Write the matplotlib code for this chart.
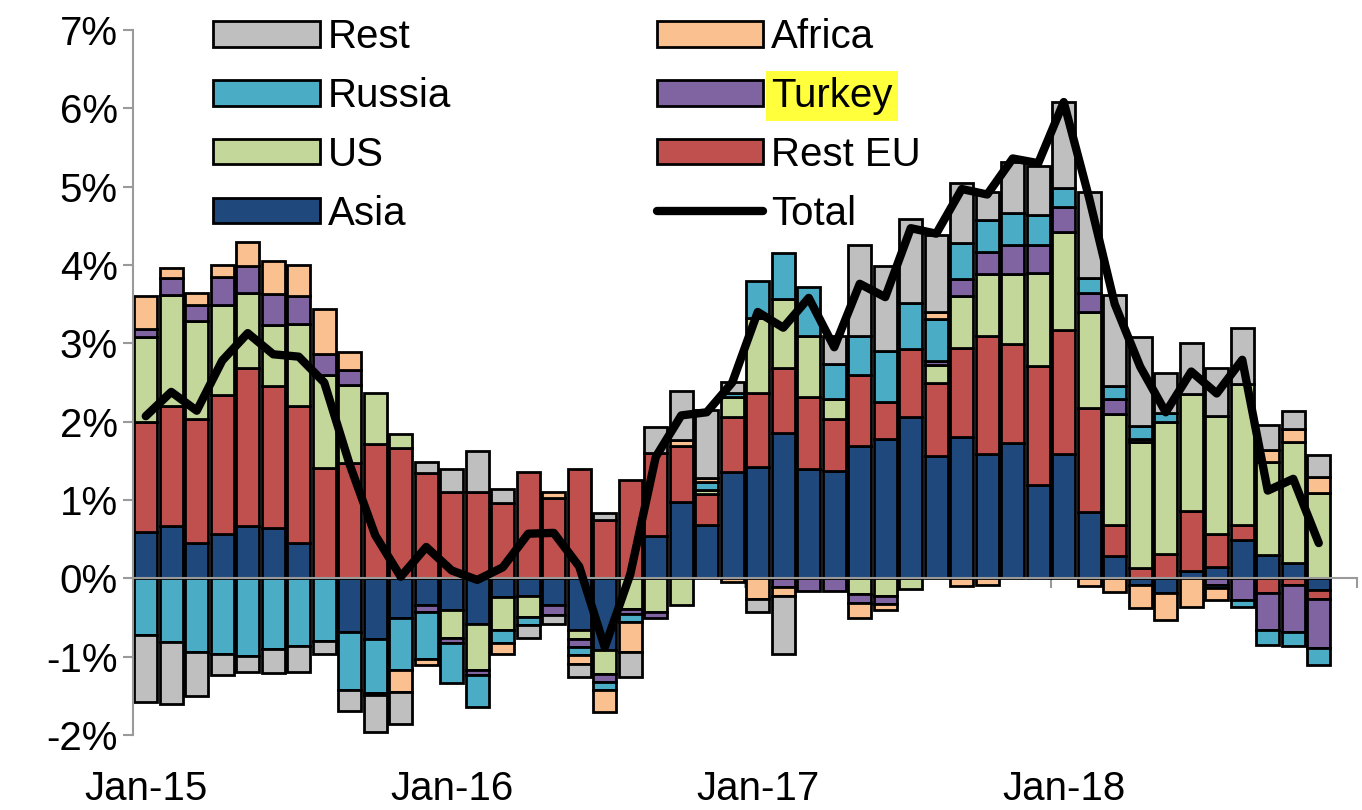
import numpy as np
import matplotlib
matplotlib.use("Agg")
import matplotlib.pyplot as plt
from matplotlib.patches import Patch
from matplotlib.lines import Line2D

plt.rcParams['font.family'] = ['Liberation Sans', 'DejaVu Sans']

months = ["Jan-15", "Feb-15", "Mar-15", "Apr-15", "May-15", "Jun-15", "Jul-15", "Aug-15",
          "Sep-15", "Oct-15", "Nov-15", "Dec-15", "Jan-16", "Feb-16", "Mar-16", "Apr-16",
          "May-16", "Jun-16", "Jul-16", "Aug-16", "Sep-16", "Oct-16", "Nov-16", "Dec-16",
          "Jan-17", "Feb-17", "Mar-17", "Apr-17", "May-17", "Jun-17", "Jul-17", "Aug-17",
          "Sep-17", "Oct-17", "Nov-17", "Dec-17", "Jan-18", "Feb-18", "Mar-18", "Apr-18",
          "May-18", "Jun-18", "Jul-18", "Aug-18", "Sep-18", "Oct-18", "Nov-18"]

asia = [0.59, 0.67, 0.45, 0.57, 0.67, 0.64, 0.45, 0.0, -0.69, -0.77, -0.51, -0.34,
        -0.41, -0.58, -0.24, -0.22, -0.34, -0.66, -0.92, 0.0, 0.54, 0.97, 0.68, 1.36,
        1.42, 1.86, 1.40, 1.37, 1.69, 1.78, 2.06, 1.56, 1.81, 1.59, 1.73, 1.19,
        1.59, 0.85, 0.28, -0.09, -0.19, 0.10, 0.14, 0.49, 0.30, 0.19, -0.15]
rest_eu = [1.40, 1.53, 1.59, 1.77, 2.02, 1.81, 1.75, 1.41, 1.47, 1.72, 1.66, 1.34,
           1.10, 1.10, 0.96, 1.36, 1.02, 1.40, 0.74, 1.25, 1.06, 0.72, 0.40, 0.70,
           0.95, 0.83, 0.92, 0.66, 0.90, 0.47, 0.87, 0.94, 1.13, 1.51, 1.26, 1.52,
           1.58, 1.33, 0.40, 0.13, 0.31, 0.76, 0.43, 0.19, -0.19, -0.09, -0.11]
us = [1.09, 1.42, 1.25, 1.15, 0.95, 0.78, 1.05, 1.18, 1.00, 0.64, 0.18, 0.0,
      -0.35, -0.59, -0.42, -0.27, 0.0, -0.11, -0.30, -0.39, -0.43, -0.34, 0.05, 0.26,
      0.95, 0.88, 0.78, 0.26, -0.20, -0.22, -0.14, 0.22, 0.67, 0.79, 0.89, 1.19,
      1.25, 1.22, 1.42, 1.61, 1.68, 1.49, 1.50, 1.80, 1.19, 1.55, 1.09]
turkey = [0.10, 0.22, 0.20, 0.36, 0.35, 0.40, 0.36, 0.27, 0.19, 0.0, 0.0, -0.09,
          -0.07, -0.07, 0.0, 0.0, -0.13, -0.11, -0.10, -0.06, -0.08, 0.0, 0.0, 0.0,
          0.0, -0.11, -0.16, -0.16, -0.11, -0.11, 0.0, 0.06, 0.21, 0.27, 0.37, 0.35,
          0.32, 0.24, 0.19, 0.04, 0.0, 0.0, -0.08, -0.28, -0.47, -0.59, -0.63]
russia = [-0.72, -0.81, -0.94, -0.97, -0.99, -0.90, -0.86, -0.80, -0.74, -0.70, -0.66, -0.60,
          -0.51, -0.40, -0.17, -0.10, 0.0, -0.10, -0.11, -0.11, 0.0, 0.0, 0.10, 0.05,
          0.48, 0.58, 0.62, 0.45, 0.50, 0.65, 0.58, 0.53, 0.46, 0.42, 0.41, 0.39,
          0.24, 0.19, 0.16, 0.17, 0.12, 0.0, -0.04, -0.08, -0.19, -0.18, -0.22]
africa = [0.42, 0.12, 0.15, 0.15, 0.31, 0.42, 0.39, 0.58, 0.23, -0.02, -0.28, -0.08,
          0.0, 0.0, -0.13, 0.0, 0.08, -0.11, -0.28, -0.38, 0.0, 0.07, 0.05, -0.05,
          -0.26, -0.12, 0.0, 0.0, -0.20, -0.07, 0.0, 0.09, -0.10, -0.09, 0.0, 0.0,
          0.0, -0.10, -0.17, -0.29, -0.34, -0.36, -0.16, 0.0, 0.15, 0.17, 0.21]
rest = [-0.86, -0.79, -0.56, -0.27, -0.21, -0.31, -0.34, -0.16, -0.26, -0.47, -0.41, 0.15,
        0.29, 0.53, 0.18, -0.17, -0.11, -0.17, 0.09, -0.32, 0.33, 0.63, 0.87, 0.14,
        -0.17, -0.74, 0.0, 0.35, 1.16, 1.09, 1.08, 0.98, 0.77, 0.35, 0.66, 0.62,
        1.10, 1.10, 1.17, 1.13, 0.51, 0.65, 0.62, 0.71, 0.32, 0.22, 0.28]
total = [2.07, 2.38, 2.14, 2.78, 3.13, 2.86, 2.83, 2.50, 1.45, 0.55, 0.02, 0.40,
         0.10, -0.02, 0.14, 0.57, 0.58, 0.15, -0.88, 0.05, 1.55, 2.08, 2.12, 2.50,
         3.40, 3.20, 3.58, 2.95, 3.76, 3.59, 4.47, 4.40, 4.97, 4.90, 5.36, 5.30,
         6.08, 4.85, 3.50, 2.70, 2.12, 2.64, 2.36, 2.79, 1.12, 1.27, 0.45]

series_names = ["Asia", "Rest EU", "US", "Turkey", "Russia", "Africa", "Rest"]
series_values = [asia, rest_eu, us, turkey, russia, africa, rest]
series_colors = ["#1F497D", "#C0504D", "#C4D79B", "#8064A2", "#4BACC6", "#FAC090", "#BFBFBF"]

FS = 29

fig = plt.figure(figsize=(13.62, 8.10), dpi=100)
ax = fig.add_axes([133 / 1362, 1 - 735 / 810, (1357 - 133) / 1362, (735 - 30) / 810])

x = np.arange(len(months))
pos_base = np.zeros(len(months))
neg_base = np.zeros(len(months))
for name, vals, col in zip(series_names, series_values, series_colors):
    v = np.array(vals, dtype=float)
    bottom = np.where(v >= 0, pos_base, neg_base)
    edges = ['black' if val != 0 else 'none' for val in v]
    ax.bar(x, v, bottom=bottom, width=0.9, color=col, edgecolor=edges, linewidth=2.0, zorder=2)
    pos_base += np.clip(v, 0, None)
    neg_base += np.clip(v, None, 0)

ax.plot(x, total, color='black', lw=6, solid_capstyle='round', solid_joinstyle='round', zorder=4)

ax.set_xlim(-0.5, 47.5)
ax.set_ylim(-2, 7)

axis_gray = '#9A9A9A'
for s in ['top', 'right']:
    ax.spines[s].set_visible(False)
ax.spines['bottom'].set_position(('data', 0))
ax.spines['bottom'].set_color(axis_gray)
ax.spines['bottom'].set_linewidth(1.5)
ax.spines['bottom'].set_zorder(3)
ax.spines['left'].set_color(axis_gray)
ax.spines['left'].set_linewidth(1.5)

ax.set_yticks(np.arange(-2, 8, 1))
ax.set_yticklabels([f"{v}%" for v in range(-2, 8)])
ax.tick_params(axis='y', direction='out', length=7, width=1.5, color=axis_gray,
               labelsize=FS, pad=4)
ax.set_xticks([-0.5, 11.5, 23.5, 35.5, 47.5])
ax.set_xticklabels([])
ax.tick_params(axis='x', direction='out', length=7, width=1.5, color=axis_gray)

sec = ax.secondary_xaxis('bottom')
sec.set_xticks([0, 12, 24, 36])
sec.set_xticklabels([months[0], months[12], months[24], months[36]])
sec.tick_params(length=0, labelsize=FS, pad=25)
sec.spines['bottom'].set_visible(False)

handles = [
    Patch(facecolor=series_colors[6], edgecolor='black', linewidth=2),
    Patch(facecolor=series_colors[4], edgecolor='black', linewidth=2),
    Patch(facecolor=series_colors[2], edgecolor='black', linewidth=2),
    Patch(facecolor=series_colors[0], edgecolor='black', linewidth=2),
    Patch(facecolor=series_colors[5], edgecolor='black', linewidth=2),
    Patch(facecolor=series_colors[3], edgecolor='black', linewidth=2),
    Patch(facecolor=series_colors[1], edgecolor='black', linewidth=2),
    Line2D([0], [0], color='black', lw=6, solid_capstyle='round'),
]
labels = ["Rest", "Russia", "US", "Asia", "Africa", "Turkey", "Rest EU", "Total"]
leg = fig.legend(handles, labels, ncol=2, loc='upper left',
                 bbox_to_anchor=(213 / 1362, 1 - 18 / 810), frameon=False,
                 fontsize=FS, handlelength=2.65, handleheight=0.6,
                 handletextpad=0.2, labelspacing=0.52, columnspacing=5.1,
                 borderpad=0, borderaxespad=0)
for t in leg.get_texts():
    if t.get_text() == "Turkey":
        t.set_bbox(dict(facecolor='#FFFF3C', edgecolor='none', pad=4))

fig.savefig("out.png", dpi=100)
